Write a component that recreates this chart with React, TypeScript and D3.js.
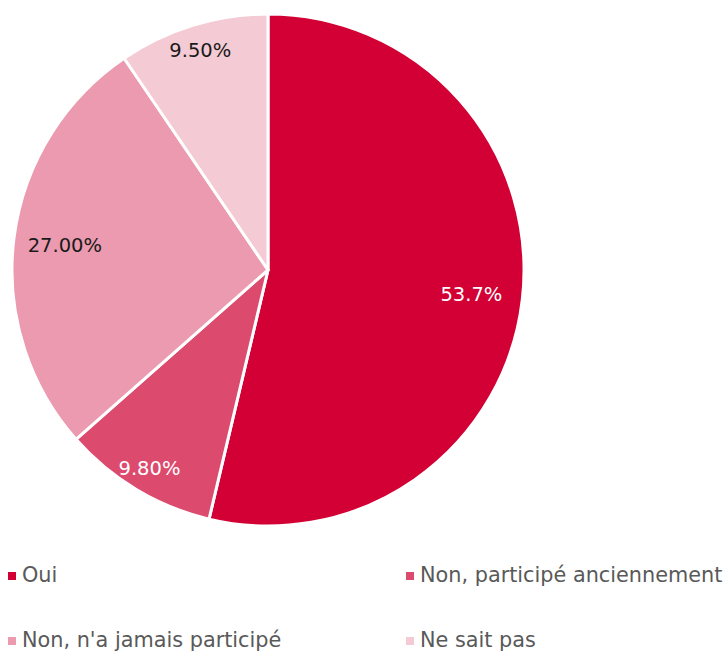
import React from "react";
import * as d3 from "d3";

const categories = ["Oui", "Non, participé anciennement", "Non, n'a jamais participé", "Ne sait pas"];
const values = [53.7, 9.8, 27.0, 9.5];
const labels = ["53.7%", "9.80%", "27.00%", "9.50%"];
const colors = ["#D20034", "#DC4A6E", "#EB9AAF", "#F4CAD4"];
const labelColors = ["#FFFFFF", "#FFFFFF", "#1A1A1A", "#1A1A1A"];

const W = 727;
const H = 654;
const cx = 268;
const cy = 270;
const R = 256;
const font = "'DejaVu Sans', sans-serif";

export default function App() {
  const pie = d3.pie<number>().sort(null).value((d) => d)(values);
  const arc = d3.arc<d3.PieArcDatum<number>>().innerRadius(0).outerRadius(R);
  const total = d3.sum(values);

  const legendPos = [
    { x: 8, y: 582 },
    { x: 406, y: 582 },
    { x: 8, y: 647 },
    { x: 406, y: 647 },
  ];

  return (
    <svg width={W} height={H} style={{ position: "absolute", left: 0, top: 0, background: "#fff" }}>
      <g transform={`translate(${cx},${cy})`}>
        {pie.map((p, i) => (
          <path key={i} d={arc(p) || ""} fill={colors[i]} stroke="#fff" strokeWidth={3} strokeLinejoin="round" />
        ))}
        {pie.map((p, i) => {
          const frac = values[i] / total;
          const lr = R * (frac > 0.2 ? 0.8 : 0.9);
          const a = (p.startAngle + p.endAngle) / 2;
          const x = Math.sin(a) * lr;
          const y = -Math.cos(a) * lr;
          return (
            <text
              key={"l" + i}
              x={x}
              y={y + 1}
              textAnchor="middle"
              dominantBaseline="central"
              fontFamily={font}
              fontSize={19.5}
              fill={labelColors[i]}
            >
              {labels[i]}
            </text>
          );
        })}
      </g>
      {categories.map((c, i) => (
        <g key={"lg" + i}>
          <rect x={legendPos[i].x} y={legendPos[i].y - 10} width={8} height={8} fill={colors[i]} />
          <text x={legendPos[i].x + 14} y={legendPos[i].y} fontFamily={font} fontSize={20.8} fill="#595959">
            {c}
          </text>
        </g>
      ))}
    </svg>
  );
}
